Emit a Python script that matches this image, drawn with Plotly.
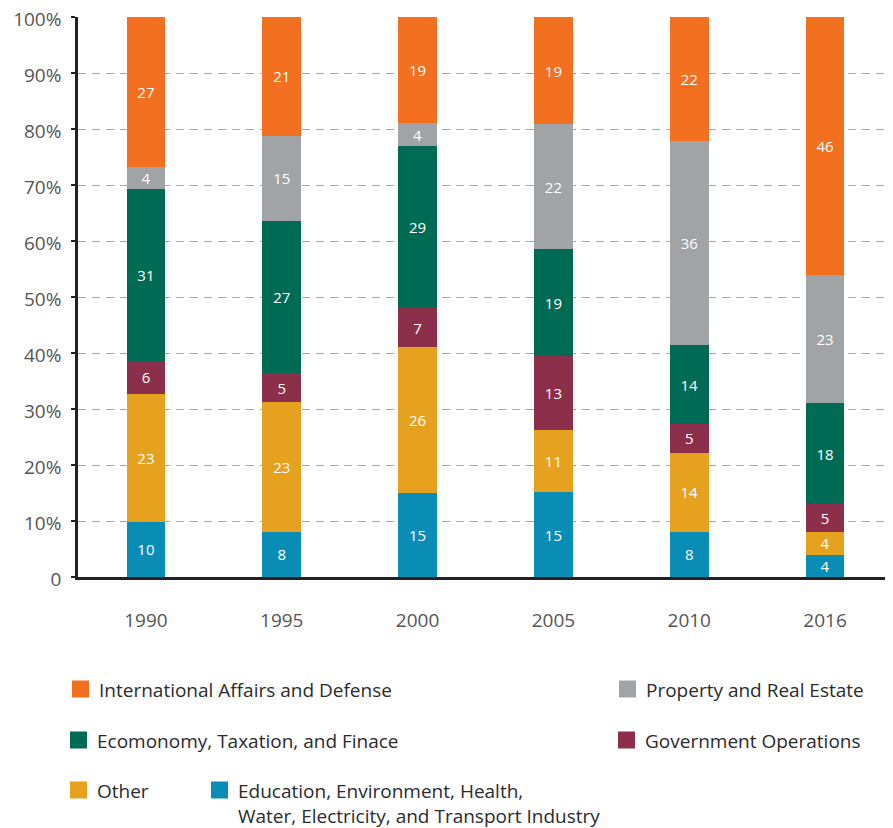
import plotly.graph_objects as go

years = ["1990", "1995", "2000", "2005", "2010", "2016"]

education = [10, 8, 15, 15, 8, 4]
other = [23, 23, 26, 11, 14, 4]
government = [6, 5, 7, 13, 5, 5]
economy = [31, 27, 29, 19, 14, 18]
property_re = [4, 15, 4, 22, 36, 23]
international = [27, 21, 19, 19, 22, 46]

y_tickvals = [0, 10, 20, 30, 40, 50, 60, 70, 80, 90, 100]
y_ticktext = ["0", "10%", "20%", "30%", "40%", "50%", "60%", "70%", "80%", "90%", "100%"]

series = [
    ("Education, Environment, Health,<br>Water, Electricity, and Transport Industry", education, "#0A8DB5"),
    ("Other", other, "#E6A21E"),
    ("Government Operations", government, "#8B2F4A"),
    ("Ecomonomy, Taxation, and Finace", economy, "#006B54"),
    ("Property and Real Estate", property_re, "#A1A4A7"),
    ("International Affairs and Defense", international, "#F37021"),
]

FONT = "Open Sans"

fig = go.Figure()
for name, vals, color in series:
    fig.add_trace(go.Bar(
        x=years, y=vals, name=name,
        marker=dict(color=color, line=dict(width=0)),
        text=[str(v) for v in vals],
        texttemplate="%{text}",
        textposition="inside",
        insidetextanchor="middle",
        textangle=0,
        constraintext="none",
        textfont=dict(color="white", size=15, family=FONT),
        showlegend=False,
        hoverinfo="x+name+text",
    ))

# page offset (browser body margin) compensation
OFF = 8
W, H = 893 - OFF, 828 - OFF
ml, mr, mt = 78 - OFF, 0, 17 - OFF
mb = H - (577 - OFF)
pw, ph = W - ml - mr, H - mt - mb


def px_x(x):
    return (x - OFF - ml) / pw


def px_y(y):
    return (H - mb - (y - OFF)) / ph


legend_items = [
    ("International Affairs and Defense", "#F37021", 72, 689),
    ("Property and Real Estate", "#A1A4A7", 619, 689),
    ("Ecomonomy, Taxation, and Finace", "#006B54", 70, 740),
    ("Government Operations", "#8B2F4A", 618, 740),
    ("Other", "#E6A21E", 70, 790),
    ("Education, Environment, Health,<br>Water, Electricity, and Transport Industry", "#0A8DB5", 211, 790),
]
for label, color, x0, yc in legend_items:
    fig.add_shape(type="rect", xref="paper", yref="paper",
                  x0=px_x(x0), x1=px_x(x0 + 17),
                  y0=px_y(yc + 8.5), y1=px_y(yc - 8.5),
                  fillcolor=color, line=dict(width=0))
    fig.add_annotation(
        xref="paper", yref="paper",
        x=px_x(x0 + 25), y=px_y(yc - 14),
        xanchor="left", yanchor="top",
        text=label, showarrow=False, align="left",
        font=dict(family=FONT, size=19, color="#2b2b2b"),
    )

fig.update_layout(
    barmode="stack",
    barnorm="percent",
    bargap=0.715,
    width=W, height=H,
    margin=dict(l=ml, r=mr, t=mt, b=mb, autoexpand=False),
    paper_bgcolor="white",
    plot_bgcolor="white",
    font=dict(family=FONT, color="#555555"),
)
fig.update_yaxes(
    range=[0, 100],
    automargin=False,
    tickvals=y_tickvals, ticktext=y_ticktext,
    tickfont=dict(size=19, color="#555555", family=FONT),
    showline=True, linecolor="#222222", linewidth=2.5,
    ticks="outside", ticklen=4, tickwidth=2, tickcolor="#222222",
    showgrid=True, gridcolor="#a8a8a8", griddash="8px,6px", gridwidth=1.3,
    zeroline=False,
    ticklabelstandoff=6,
    ticklabelshift=2,
    ticklabeloverflow="allow",
)
fig.update_xaxes(
    automargin=False,
    showline=True, linecolor="#222222", linewidth=2.5,
    ticks="", tickfont=dict(size=19, color="#555555", family=FONT),
    ticklabelstandoff=24,
    showgrid=False,
)

fig.write_html("out.html")
